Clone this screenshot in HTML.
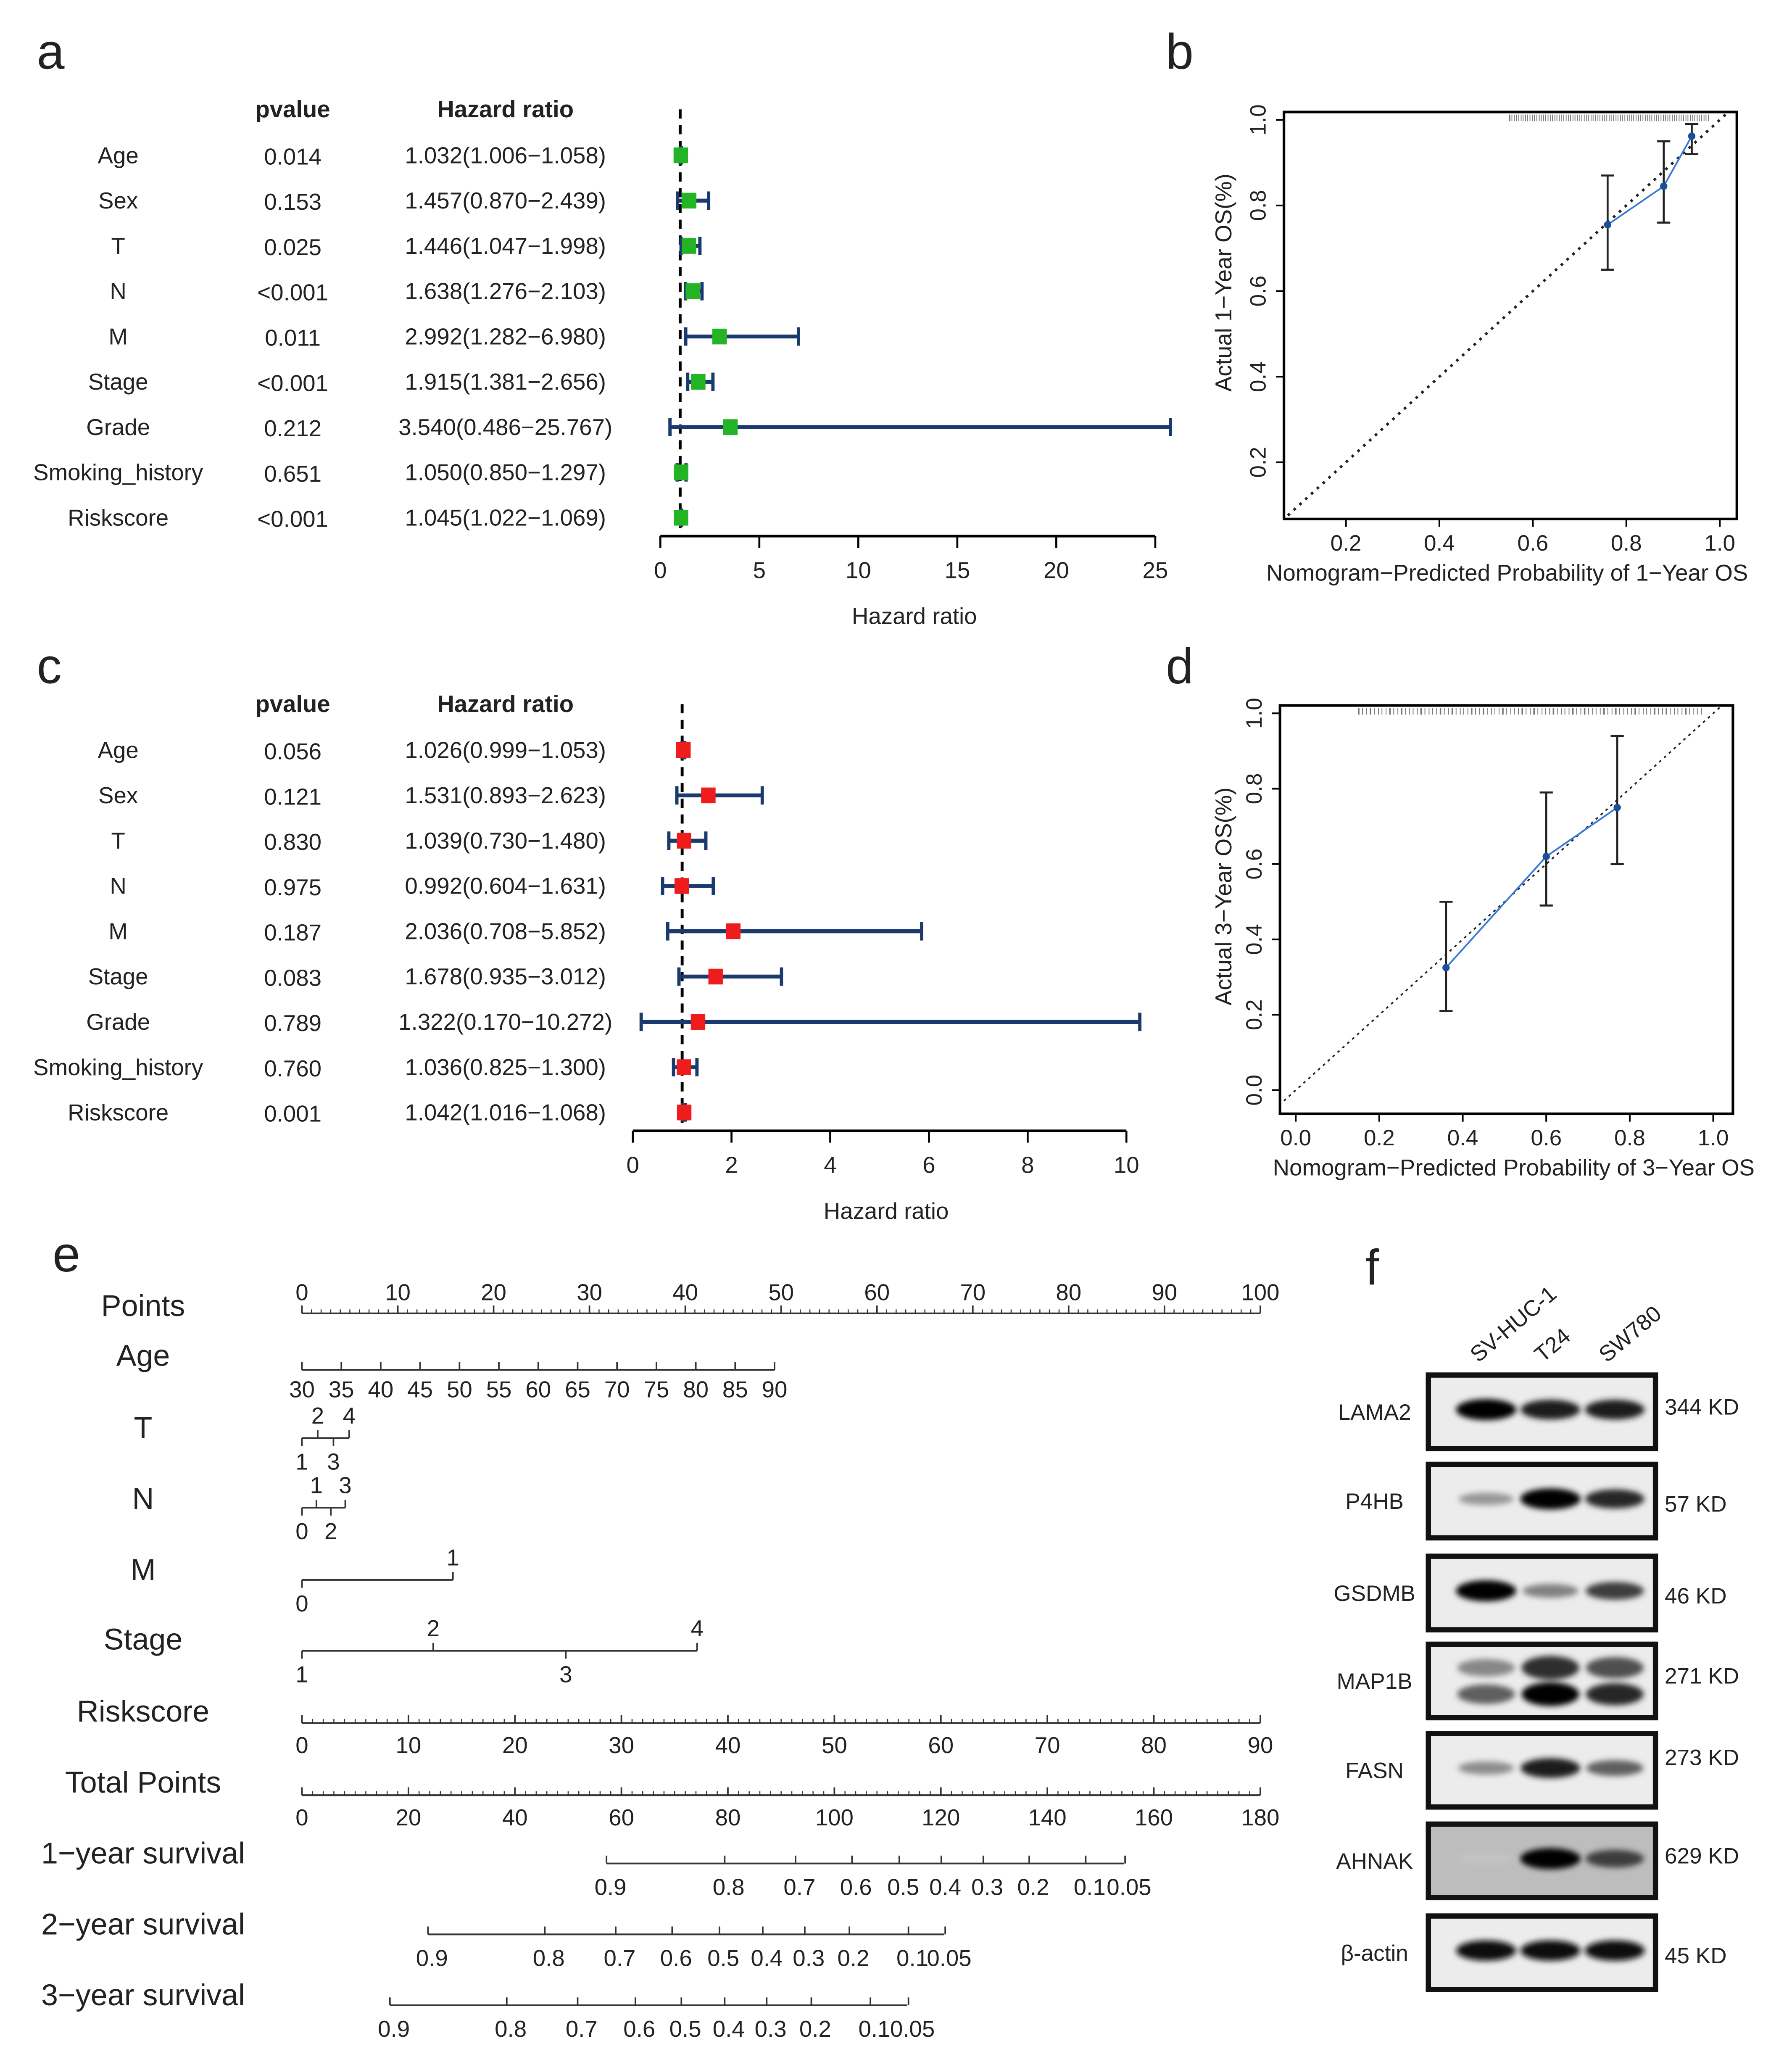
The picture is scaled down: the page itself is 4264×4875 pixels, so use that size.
<!DOCTYPE html>
<html><head><meta charset="utf-8"><style>
html,body{margin:0;padding:0;background:#fff;}
svg{display:block;}
text{font-family:"Liberation Sans",Arial,sans-serif;fill:#222;}
</style></head><body>
<svg id="fig" xmlns="http://www.w3.org/2000/svg" width="4264" height="4875" viewBox="0 0 1365 1560">
<rect width="1365" height="1560" fill="#fff"/>
<g id="root"></g>
</svg>
<script>
// ---------- data ----------
const forestVars = ["Age","Sex","T","N","M","Stage","Grade","Smoking_history","Riskscore"];
const aP = ["0.014","0.153","0.025","<0.001","0.011","<0.001","0.212","0.651","<0.001"];
const aHR = [1.032,1.457,1.446,1.638,2.992,1.915,3.540,1.050,1.045];
const aLo = [1.006,0.870,1.047,1.276,1.282,1.381,0.486,0.850,1.022];
const aHi = [1.058,2.439,1.998,2.103,6.980,2.656,25.767,1.297,1.069];
const aTicks = [0,5,10,15,20,25];
const cP = ["0.056","0.121","0.830","0.975","0.187","0.083","0.789","0.760","0.001"];
const cHR = [1.026,1.531,1.039,0.992,2.036,1.678,1.322,1.036,1.042];
const cLo = [0.999,0.893,0.730,0.604,0.708,0.935,0.170,0.825,1.016];
const cHi = [1.053,2.623,1.480,1.631,5.852,3.012,10.272,1.300,1.068];
const cTicks = [0,2,4,6,8,10];
const bPredX = [0.76,0.88,0.94];
const bObsY = [0.755,0.845,0.962];
const bLoY = [0.65,0.76,0.92];
const bHiY = [0.87,0.95,0.99];
const bXTicks = [0.2,0.4,0.6,0.8,1.0];
const bYTicks = [0.2,0.4,0.6,0.8,1.0];
const dPredX = [0.36,0.60,0.77];
const dObsY = [0.325,0.62,0.75];
const dLoY = [0.21,0.49,0.60];
const dHiY = [0.50,0.79,0.94];
const dXTicks = [0,0.2,0.4,0.6,0.8,1.0];
const dYTicks = [0,0.2,0.4,0.6,0.8,1.0];

const NS="http://www.w3.org/2000/svg";
const root=document.getElementById('root');
function el(tag,attrs,parent){const e=document.createElementNS(NS,tag);for(const k in attrs)e.setAttribute(k,attrs[k]);(parent||root).appendChild(e);return e;}
function txt(x,y,s,size,anchor,parent,extra){const t=el('text',Object.assign({x:x,y:y,'font-size':size,'text-anchor':anchor||'middle'},extra||{}),parent);t.textContent=s;return t;}
function fmt(v){return (Math.round(v*10)/10).toFixed(1);}

[["a",28,52],["b",888,52],["c",28,520],["d",888,520],["e",40,968],["f",1040,978]].forEach(p=>{
  const t=txt(p[1],p[2],p[0],38,'start');
  
  
});

function forest(cfg){
  const g=el('g',{});
  
  
  const sx=v=>cfg.x0+(v-cfg.t[0])*(cfg.x1-cfg.x0)/(cfg.t[cfg.t.length-1]-cfg.t[0]);
  const h1=txt(cfg.pX,cfg.hy,'pvalue',18,'middle',g,{'font-weight':'bold'});
  
  const h2=txt(cfg.hrX,cfg.hy,'Hazard ratio',18,'middle',g,{'font-weight':'bold'});
  
  el('line',{x1:sx(1),x2:sx(1),y1:cfg.hy-6,y2:cfg.ay,stroke:'#000','stroke-width':2.2,'stroke-dasharray':'7,5'},g);
  forestVars.forEach((v,i)=>{
    const y=cfg.y0+i*cfg.dy;
    const a=txt(90,y+6,v,17.5,'middle',g);
    const b=txt(cfg.pX,y+7,cfg.p[i],17.5,'middle',g);
    const c=txt(cfg.hrX,y+6,cfg.hr[i].toFixed(3)+'('+cfg.lo[i].toFixed(3)+'\u2212'+cfg.hi[i].toFixed(3)+')',17.5,'middle',g);
    
    const ci=el('g',{},g);
    
    el('line',{x1:sx(cfg.lo[i]),x2:sx(cfg.hi[i]),y1:y,y2:y,stroke:'#1a3a6e','stroke-width':3},ci);
    el('line',{x1:sx(cfg.lo[i]),x2:sx(cfg.lo[i]),y1:y-7,y2:y+7,stroke:'#1a3a6e','stroke-width':2.5},ci);
    el('line',{x1:sx(cfg.hi[i]),x2:sx(cfg.hi[i]),y1:y-7,y2:y+7,stroke:'#1a3a6e','stroke-width':2.5},ci);
    const m=el('rect',{x:sx(cfg.hr[i])-5.5,y:y-6,width:11,height:12,fill:cfg.col},g);
    
  });
  const ax=el('g',{},g);
  
  el('line',{x1:sx(cfg.t[0]),x2:sx(cfg.t[cfg.t.length-1]),y1:cfg.ay,y2:cfg.ay,stroke:'#000','stroke-width':2},ax);
  cfg.t.forEach(t=>{
    el('line',{x1:sx(t),x2:sx(t),y1:cfg.ay,y2:cfg.ay+9,stroke:'#000','stroke-width':1.5},ax);
    const tl=txt(sx(t),cfg.ay+32,String(t),17.5,'middle',ax);
  });
  const xt=txt((sx(cfg.t[0])+sx(cfg.t[cfg.t.length-1]))/2+5,cfg.ay+67,'Hazard ratio',17.5,'middle',g);
  
}
forest({name:'forest-plot-a',x0:503,x1:880,t:aTicks,ay:408,y0:118,dy:34.5,hy:89,pX:223,hrX:385,p:aP,hr:aHR,lo:aLo,hi:aHi,col:'#22b422'});
forest({name:'forest-plot-c',x0:482,x1:858,t:cTicks,ay:861,y0:571,dy:34.5,hy:542,pX:223,hrX:385,p:cP,hr:cHR,lo:cLo,hi:cHi,col:'#ee1c1c'});

function calib(cfg){
  const g=el('g',{});
  
  const sx=v=>cfg.ax+v*cfg.kx, sy=v=>cfg.ay-v*cfg.ky;
  const inv=x=>(x-cfg.ax)/cfg.kx;
  const frame=el('rect',{x:cfg.bx0,y:cfg.by0,width:cfg.bx1-cfg.bx0,height:cfg.by1-cfg.by0,fill:'none',stroke:'#000','stroke-width':2},g);
  
  const lo=Math.max(inv(cfg.bx0+3),(cfg.ay-cfg.by1)/cfg.ky), hi=Math.min(inv(cfg.bx1-2),(cfg.ay-cfg.by0)/cfg.ky);
  const diag=el('line',{x1:sx(lo),y1:sy(lo),x2:sx(hi),y2:sy(hi),stroke:'#222','stroke-width':cfg.dw,'stroke-dasharray':cfg.dash},g);
  
  const rug=el('g',{stroke:'#777','stroke-width':0.6},g);
  
  for(let i=0;i<cfg.rugN;i++){const v=cfg.rugLo+(cfg.rugHi-cfg.rugLo)*((i*0.618)%1);el('line',{x1:sx(v),x2:sx(v),y1:cfg.by0+2,y2:cfg.by0+7},rug);}
  cfg.px.forEach((x,i)=>{
    const e=el('g',{},g);
    el('line',{x1:sx(x),x2:sx(x),y1:sy(cfg.lo[i]),y2:sy(cfg.hi[i]),stroke:'#222','stroke-width':1.5},e);
    el('line',{x1:sx(x)-5,x2:sx(x)+5,y1:sy(cfg.lo[i]),y2:sy(cfg.lo[i]),stroke:'#222','stroke-width':1.5},e);
    el('line',{x1:sx(x)-5,x2:sx(x)+5,y1:sy(cfg.hi[i]),y2:sy(cfg.hi[i]),stroke:'#222','stroke-width':1.5},e);
  });
  const pl=el('polyline',{points:cfg.px.map((x,i)=>sx(x)+','+sy(cfg.py[i])).join(' '),fill:'none',stroke:'#3a7bd5','stroke-width':1.3},g);
  
  cfg.px.forEach((x,i)=>{const c=el('circle',{cx:sx(x),cy:sy(cfg.py[i]),r:2.8,fill:'#1a4f9c'},g);});
  cfg.xt.forEach(t=>{
    el('line',{x1:sx(t),x2:sx(t),y1:cfg.by1,y2:cfg.by1+6,stroke:'#000','stroke-width':1.3},g);
    const l=txt(sx(t),cfg.by1+24,fmt(t),17,'middle',g);
  });
  cfg.yt.forEach(t=>{
    el('line',{x1:cfg.bx0,x2:cfg.bx0-6,y1:sy(t),y2:sy(t),stroke:'#000','stroke-width':1.3},g);
    const l=txt(cfg.bx0-14,sy(t),fmt(t),17,'middle',g,{transform:'rotate(-90 '+(cfg.bx0-14)+' '+sy(t)+')'});
    
  });
  const xl=txt(cfg.xtx,cfg.by1+47,cfg.xlab,17.5,'middle',g);
  const yc=(cfg.by0+cfg.by1)/2+cfg.yoff;
  const yl=txt(938,yc,cfg.ylab,17.5,'middle',g,{transform:'rotate(-90 938 '+yc+')'});
  
}
calib({name:'calibration-1year-b',bx0:978,bx1:1323,by0:85,by1:395,ax:954,kx:356,ay:417,ky:326,dw:2,dash:'2,4',
  px:bPredX,py:bObsY,lo:bLoY,hi:bHiY,xt:bXTicks,yt:bYTicks,rugN:90,rugLo:0.55,rugHi:0.98,
  xlab:'Nomogram\u2212Predicted Probability of 1\u2212Year OS',xtx:1148,ylab:'Actual 1\u2212Year OS(%)',yoff:-25});
calib({name:'calibration-3year-d',bx0:975,bx1:1320,by0:537,by1:848,ax:987,kx:318,ay:830,ky:287,dw:1.2,dash:'2,3',
  px:dPredX,py:dObsY,lo:dLoY,hi:dHiY,xt:dXTicks,yt:dYTicks,rugN:110,rugLo:0.15,rugHi:0.98,
  xlab:'Nomogram\u2212Predicted Probability of 3\u2212Year OS',xtx:1153,ylab:'Actual 3\u2212Year OS(%)',yoff:-10});

const nomoLabels=["Points","Age","T","N","M","Stage","Riskscore","Total Points","1\u2212year survival","2\u2212year survival","3\u2212year survival"];
const nomoLabelY=[1000,1038,1093,1147,1201,1254,1309,1363,1417,1471,1525];
const surv1Labels=["0.9","0.8","0.7","0.6","0.5","0.4","0.3","0.2","0.1","0.05"];
const surv1Pos=[465,555,609,652,688,720,752,787,830,860];
const surv2Pos=[329,418,472,515,551,584,616,650,695,723];
const surv3Pos=[300,389,443,487,522,555,587,621,666,695];
const gN=el('g',{});
nomoLabels.forEach((l,i)=>{const t=txt(109,nomoLabelY[i]+2,l,23,'middle',gN);});
function scale(y,x0,x1,vals,labY,minorN,name,labs){
  const g=el('g',{},gN);
  el('line',{x1:x0,x2:x1,y1:y,y2:y,stroke:'#333','stroke-width':1.3},g);
  vals.forEach((v,i)=>{
    const x=x0+(v-vals[0])*(x1-x0)/(vals[vals.length-1]-vals[0]);
    el('line',{x1:x,x2:x,y1:y,y2:y-6,stroke:'#333','stroke-width':1.2},g);
    const t=txt(x,labY,String(v),17.5,'middle',g);
  });
  if(minorN){for(let k=0;k<=minorN;k++){const x=x0+k*(x1-x0)/minorN;el('line',{x1:x,x2:x,y1:y,y2:y-3,stroke:'#333','stroke-width':0.8},g);}}
}
scale(1000,230,960,[0,10,20,30,40,50,60,70,80,90,100],990,100,'points-scale');
scale(1043,230,590,[30,35,40,45,50,55,60,65,70,75,80,85,90],1064,0,'age-scale');
scale(1312,230,960,[0,10,20,30,40,50,60,70,80,90],1335,90,'riskscore-scale');
scale(1367,230,960,[0,20,40,60,80,100,120,140,160,180],1390,90,'total-points-scale');
function alt(y,pos,labs,name){
  const g=el('g',{},gN);
  el('line',{x1:pos[0],x2:pos[pos.length-1],y1:y,y2:y,stroke:'#333','stroke-width':1.3},g);
  pos.forEach((x,i)=>{
    const up=i%2===1;
    el('line',{x1:x,x2:x,y1:y,y2:up?y-6:y+6,stroke:'#333','stroke-width':1.2},g);
    const t=txt(x,up?y-11:y+24,labs[i],17.5,'middle',g);
  });
}
alt(1095,[230,242,254,266],["1","2","3","4"],'t-scale');
alt(1148,[230,241,252,263],["0","1","2","3"],'n-scale');
alt(1203,[230,345],["0","1"],'m-scale');
alt(1257,[230,330,431,531],["1","2","3","4"],'stage-scale');
function surv(y,pos,name){
  const g=el('g',{},gN);
  el('line',{x1:pos[0]-3,x2:pos[pos.length-1]-4,y1:y,y2:y,stroke:'#333','stroke-width':1.3},g);
  pos.forEach((x,i)=>{
    el('line',{x1:x-3,x2:x-3,y1:y,y2:y-6,stroke:'#333','stroke-width':1.2},g);
    const t=txt(x,y+24,surv1Labels[i],17.5,'middle',g);
  });
}
surv(1419,surv1Pos,'survival-1year-scale');
surv(1473,surv2Pos,'survival-2year-scale');
surv(1527,surv3Pos,'survival-3year-scale');

const blotProteins=["LAMA2","P4HB","GSDMB","MAP1B","FASN","AHNAK","\u03b2-actin"];
const blotSizes=["344 KD","57 KD","46 KD","271 KD","273 KD","629 KD","45 KD"];
const blotTop=[1047,1115,1185,1252,1320,1389,1459];
const blotIntensity=[[1,0.9,0.9],[0.35,1,0.85],[1,0.45,0.75],[0.6,1,0.85],[0.4,0.9,0.6],[0.15,1,0.75],[0.95,0.95,0.95]];
const lanes=["SV-HUC-1","T24","SW780"];
const laneX=[1132,1181,1230];
const defs=el('defs',{});
const f=el('filter',{id:'blur',x:'-50%',y:'-100%',width:'200%',height:'300%'},defs);el('feGaussianBlur',{stdDeviation:2.2},f);
const gB=el('g',{});
lanes.forEach((l,i)=>{const t=txt(laneX[i]-6,1038,l,17,'start',gB,{transform:'rotate(-40 '+(laneX[i]-6)+' 1038)'});});
blotProteins.forEach((p,r)=>{
  const y0=blotTop[r],h=56;
  const g=el('g',{},gB);
  el('rect',{x:1088,y:y0,width:173,height:h,fill:r===5?'#bdbdbd':'#ececec',stroke:'#111','stroke-width':4},g);
  const bg=el('g',{filter:'url(#blur)'},g);
  laneX.forEach((x,i)=>{
    const v=blotIntensity[r][i];
    const c=Math.round(230-225*v);
    const col='rgb('+c+','+c+','+c+')';
    if(p==='MAP1B'){
      el('ellipse',{cx:x,cy:y0+h*0.68,rx:22,ry:5+4*v,fill:col},bg);
      el('ellipse',{cx:x,cy:y0+h*0.32,rx:22,ry:3+6*v,fill:'rgb('+(c+40)+','+(c+40)+','+(c+40)+')'},bg);
    } else {
      el('ellipse',{cx:x,cy:y0+h*0.47,rx:20+3*v,ry:3+5*v,fill:col},bg);
    }
  });
  const pl=txt(1047,y0+h/2+6,p,17,'middle',gB);
  const sl=txt(1268,y0+h/2+(r===0||r===3||r===4||r===5?2:8)+(r===4?-6:0),blotSizes[r],17,'start',gB);
});
</script>
</body></html>
